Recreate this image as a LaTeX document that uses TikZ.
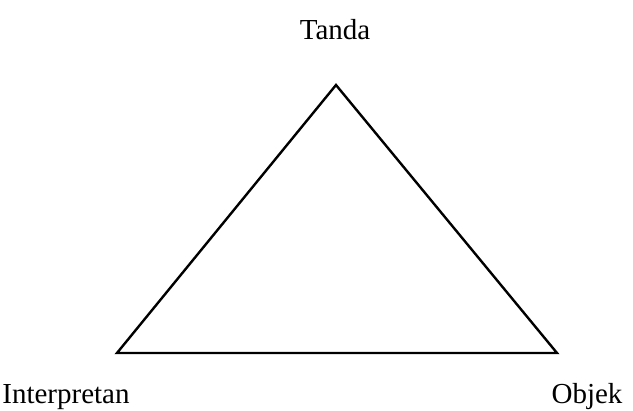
\documentclass[tikz,border=0pt]{standalone}
\usepackage{fontspec}
\setmainfont{Liberation Serif}
\usetikzlibrary{positioning}

\begin{document}
\begin{tikzpicture}[
  x=1pt, y=-1pt,
  lbl/.style={font=\fontsize{29}{33}\selectfont, text=black, inner sep=0pt, anchor=base},
  side/.style={draw=black, line width=2.4pt, line join=miter},
]
\useasboundingbox (0,0) rectangle (633,411);

% Corners
\coordinate (top)   at (336,85);
\coordinate (left)  at (117,353);
\coordinate (right) at (557,353);

% Labels
\node[lbl] (tanda)  at (335,40)  {Tanda};
\node[lbl] (interp) at (66,404)  {Interpretan};
\node[lbl] (objek)  at (587,404) {Objek};

% Triangle
\draw[side] (top) -- (right) -- (left) -- cycle;

\end{tikzpicture}
\end{document}
